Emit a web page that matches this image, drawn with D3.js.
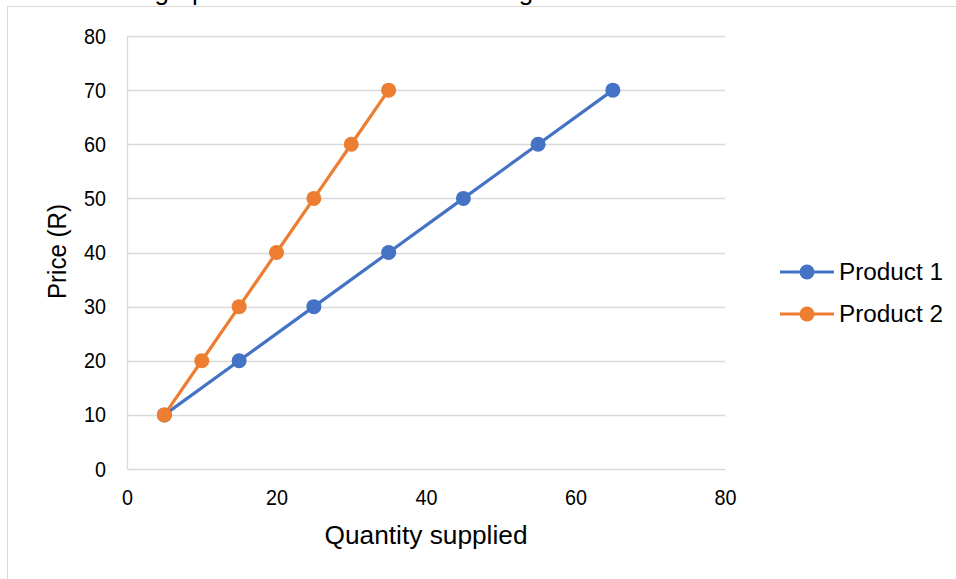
<!DOCTYPE html>
<html>
<head>
<meta charset="utf-8">
<script src="https://cdn.jsdelivr.net/npm/d3@7"></script>
<style>
  body { margin: 0; background: #fff; }
  svg { display: block; font-family: "Liberation Sans", Arial, sans-serif; }
</style>
</head>
<body>
<svg></svg>
<script>
const width = 956;
const height = 579;

// data
const seriesNames = ['Product 1', 'Product 2'];
const seriesColors = ['#4472C4', '#ED7D31'];
const product1Qty = [5, 15, 25, 35, 45, 55, 65];
const product1Price = [10, 20, 30, 40, 50, 60, 70];
const product2Qty = [5, 10, 15, 20, 25, 30, 35];
const product2Price = [10, 20, 30, 40, 50, 60, 70];
const xTicks = [0, 20, 40, 60, 80];
const yTicks = [0, 10, 20, 30, 40, 50, 60, 70, 80];

const series = [
	{ name: seriesNames[0], color: seriesColors[0], pts: product1Qty.map((q, i) => ({ q, p: product1Price[i] })) },
	{ name: seriesNames[1], color: seriesColors[1], pts: product2Qty.map((q, i) => ({ q, p: product2Price[i] })) },
];

const svg = d3.select('svg').attr('width', width).attr('height', height);

svg.append('rect').attr('width', width).attr('height', height).attr('fill', '#fff');

// bit of the question text above the chart, mostly cut off in the original
svg
	.append('text')
	.attr('x', 10)
	.attr('y', 0)
	.attr('font-size', 26)
	.attr('fill', '#000')
	.text('Now draw a graph of both the data sets using one set of axes.');

// chart frame
svg
	.append('rect')
	.attr('x', 7.5)
	.attr('y', 6.5)
	.attr('width', width + 20)
	.attr('height', height + 20)
	.attr('fill', 'none')
	.attr('stroke', '#d9d9d9');

const x = d3.scaleLinear().domain([0, 80]).range([127, 725]);
const y = d3.scaleLinear().domain([0, 80]).range([469, 36]);

// gridlines
svg
	.append('g')
	.selectAll('line')
	.data(yTicks.slice(1))
	.enter()
	.append('line')
	.attr('x1', x(0))
	.attr('x2', x(80))
	.attr('y1', (d) => Math.round(y(d)) + 0.5)
	.attr('y2', (d) => Math.round(y(d)) + 0.5)
	.attr('stroke', '#d9d9d9')
	.attr('stroke-width', 1.3);

// axes
const yAxis = svg
	.append('g')
	.attr('transform', `translate(${x(0)},0)`)
	.call(d3.axisLeft(y).tickValues(yTicks).tickSize(0).tickPadding(21));
const xAxis = svg
	.append('g')
	.attr('transform', `translate(0,${y(0)})`)
	.call(d3.axisBottom(x).tickValues(xTicks).tickSize(0).tickPadding(20));

[yAxis, xAxis].forEach((a) => {
	a.select('.domain').attr('stroke', '#d9d9d9').attr('stroke-width', 1.3);
	a.selectAll('text')
		.attr('font-size', 22)
		.attr('fill', '#000')
		.attr('font-family', '"Liberation Sans", Arial, sans-serif')
		.attr('textLength', (d) => String(d).length * 11)
		.attr('lengthAdjust', 'spacingAndGlyphs');
});

// axis titles
svg
	.append('text')
	.attr('x', x(40))
	.attr('y', 544)
	.attr('text-anchor', 'middle')
	.attr('font-size', 25)
	.attr('textLength', 203)
	.attr('lengthAdjust', 'spacingAndGlyphs')
	.attr('fill', '#000')
	.text('Quantity supplied');

svg
	.append('text')
	.attr('transform', `translate(66,${y(40) - 1}) rotate(-90)`)
	.attr('text-anchor', 'middle')
	.attr('font-size', 25)
	.attr('textLength', 95)
	.attr('lengthAdjust', 'spacingAndGlyphs')
	.attr('fill', '#000')
	.text('Price (R)');

// lines and markers
const line = d3
	.line()
	.x((d) => x(d.q))
	.y((d) => y(d.p));

series.forEach((s) => {
	svg
		.append('path')
		.datum(s.pts)
		.attr('d', line)
		.attr('fill', 'none')
		.attr('stroke', s.color)
		.attr('stroke-width', 3.2)
		.attr('stroke-linejoin', 'round');

	svg
		.append('g')
		.selectAll('circle')
		.data(s.pts)
		.enter()
		.append('circle')
		.attr('cx', (d) => x(d.q))
		.attr('cy', (d) => y(d.p))
		.attr('r', 7.5)
		.attr('fill', s.color);
});

// legend
const legend = svg
	.append('g')
	.selectAll('g')
	.data(series)
	.enter()
	.append('g')
	.attr('transform', (d, i) => `translate(780,${272 + i * 42})`);

legend
	.append('line')
	.attr('x1', 0)
	.attr('x2', 54)
	.attr('stroke', (d) => d.color)
	.attr('stroke-width', 3.2);
legend
	.append('circle')
	.attr('cx', 27)
	.attr('r', 7.5)
	.attr('fill', (d) => d.color);
legend
	.append('text')
	.attr('x', 59)
	.attr('dy', '0.35em')
	.attr('font-size', 23)
	.attr('textLength', 104)
	.attr('lengthAdjust', 'spacingAndGlyphs')
	.attr('fill', '#000')
	.text((d) => d.name);
</script>
</body>
</html>
